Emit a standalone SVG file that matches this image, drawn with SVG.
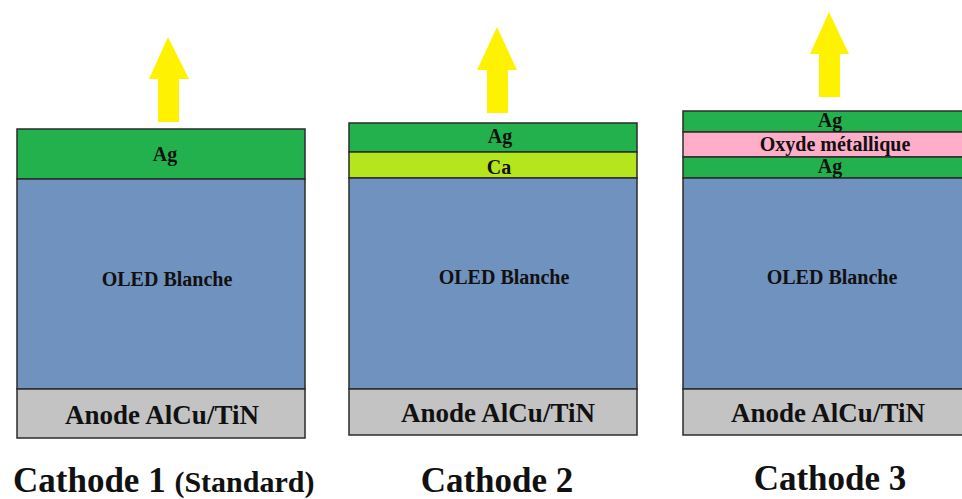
<svg xmlns="http://www.w3.org/2000/svg" width="962" height="499" viewBox="0 0 962 499">
<style>
.ly{stroke:#2b2b2b;stroke-width:1.5}
.ag{fill:#22b14c}
.ca{fill:#b5e61d}
.ox{fill:#ffaec9}
.ol{fill:#7092be}
.an{fill:#c3c3c3}
.ar{fill:#fff200}
text{font-family:"Liberation Serif","Times New Roman",serif;font-weight:bold;fill:#111;text-anchor:middle}
.s{font-size:20px}
.a{font-size:27px}
.c{font-size:35px}
</style>
<rect width="962" height="499" fill="#fff"/>
<g id="arrows">
<polygon class="ar" points="168,37 189,79 179,79 179,122 158,122 158,79 149,79"/>
<polygon class="ar" points="497,27 517,70 508,70 508,113 487,113 487,70 477,70"/>
<polygon class="ar" points="829,12 849,54 840,54 840,97 819,97 819,54 810,54"/>
</g>
<g id="stack1">
<rect class="ly ag" x="17" y="129" width="288" height="50"/>
<rect class="ly ol" x="17" y="179" width="288" height="210"/>
<rect class="ly an" x="17" y="389" width="288" height="49"/>
<text class="s" x="165" y="161">Ag</text>
<text class="s" x="167" y="286">OLED Blanche</text>
<text class="a" x="162" y="424">Anode AlCu/TiN</text>
<text x="13" y="492" style="text-anchor:start"><tspan class="c">Cathode 1 </tspan><tspan style="font-size:30px">(Standard)</tspan></text>
</g>
<g id="stack2">
<rect class="ly ag" x="349" y="123" width="288" height="29"/>
<rect class="ly ca" x="349" y="152" width="288" height="26"/>
<rect class="ly ol" x="349" y="178" width="288" height="211"/>
<rect class="ly an" x="349" y="389" width="288" height="46"/>
<text class="s" x="500" y="143">Ag</text>
<text class="s" x="499" y="174">Ca</text>
<text class="s" x="504" y="284">OLED Blanche</text>
<text class="a" x="498" y="422">Anode AlCu/TiN</text>
<text class="c" x="497" y="492">Cathode 2</text>
</g>
<g id="stack3">
<rect class="ly ag" x="683" y="111" width="300" height="21"/>
<rect class="ly ox" x="683" y="132" width="300" height="25"/>
<rect class="ly ag" x="683" y="157" width="300" height="21"/>
<rect class="ly ol" x="683" y="178" width="300" height="211"/>
<rect class="ly an" x="683" y="389" width="300" height="46"/>
<text class="s" x="830" y="127">Ag</text>
<text class="s" x="835" y="151">Oxyde métallique</text>
<text class="s" x="830" y="173">Ag</text>
<text class="s" x="832" y="284">OLED Blanche</text>
<text class="a" x="828" y="422">Anode AlCu/TiN</text>
<text class="c" x="830" y="490">Cathode 3</text>
</g>
</svg>
